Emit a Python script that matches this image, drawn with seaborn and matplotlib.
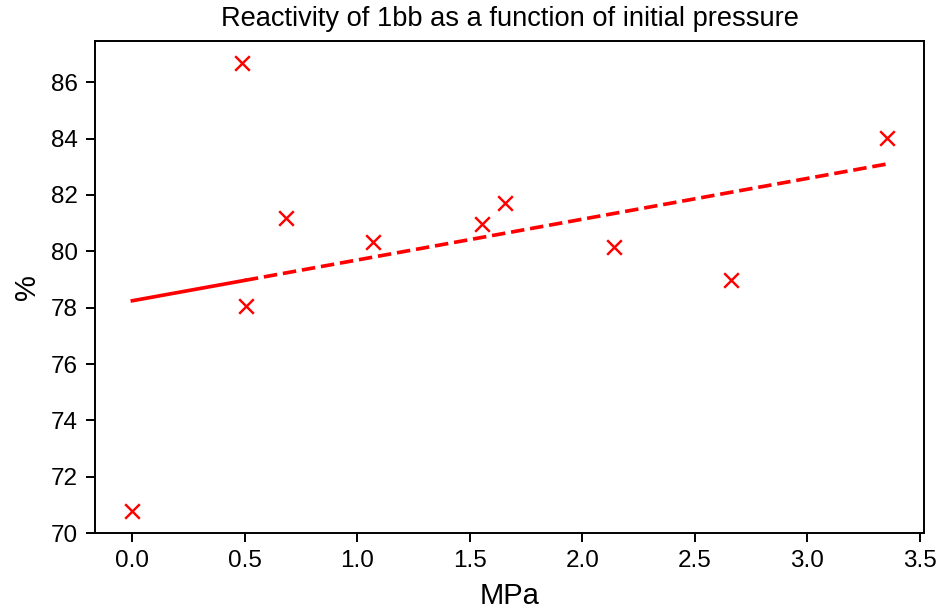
import numpy as np
import pandas as pd
import matplotlib
matplotlib.use("Agg")
from matplotlib import pyplot as plt
import seaborn as sns

# Initial pressure (MPa) and reactivity (%) of 1bb
pressure = [0.0, 0.486, 0.503, 0.685, 1.070, 1.553, 1.657, 2.139, 2.663, 3.353]
reactivity = [70.79, 86.67, 78.07, 81.17, 80.32, 80.97, 81.71, 80.17, 78.99, 84.02]

# pressure where the fitted line switches from solid to dashed
solid_until = 0.5


if __name__ == "__main__":
    df = pd.DataFrame({"MPa": pressure, "%": reactivity})

    # Least squares fit over all points
    slope, intercept = np.polyfit(df["MPa"], df["%"], 1)
    solid = pd.DataFrame({"MPa": [0.0, solid_until]})
    dashed = pd.DataFrame({"MPa": [solid_until, df["MPa"].max()]})
    solid["%"] = intercept + slope * solid["MPa"]
    dashed["%"] = intercept + slope * dashed["MPa"]

    plt.rcParams["font.family"] = ["Liberation Sans", "DejaVu Sans"]
    fig = plt.figure(figsize=(942 / 175, 611 / 175), dpi=175)
    ax = fig.add_axes([0.1005, 0.1272, 0.9812 - 0.1005, 0.9329 - 0.1272])

    sns.scatterplot(data=df, x="MPa", y="%", marker="x", color="red",
                    s=36, linewidth=1.0, ax=ax, zorder=3)
    sns.lineplot(data=solid, x="MPa", y="%", color="red", linewidth=1.5, ax=ax)
    sns.lineplot(data=dashed, x="MPa", y="%", color="red", linewidth=1.5,
                 linestyle="--", ax=ax)

    ax.set_xlabel("MPa", fontsize=12)
    ax.set_ylabel("%", fontsize=12)
    ax.set_title("Reactivity of 1bb as a function of initial pressure", fontsize=11.2)
    fig.savefig("out.png", dpi=175)
